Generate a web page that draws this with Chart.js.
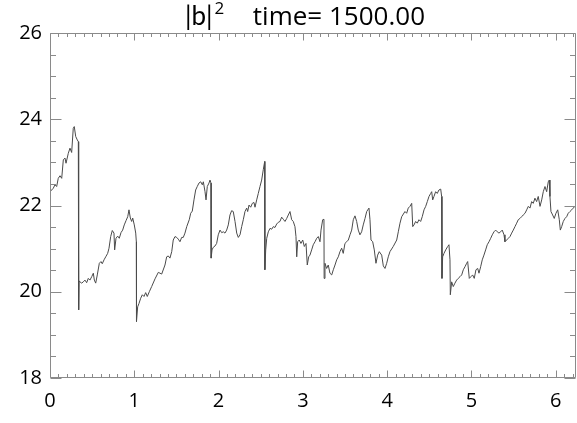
<!DOCTYPE html>
<html>
<head>
<meta charset="utf-8">
<script src="https://cdn.jsdelivr.net/npm/chart.js@4/dist/chart.umd.min.js"></script>
<style>
  html, body { margin: 0; padding: 0; background: #ffffff; }
  #c { display: block; }
</style>
</head>
<body>
<canvas id="c" width="577" height="423"></canvas>
<script>
// |b|^2 along the domain at time = 1500
const tValues = [
  0.000, 0.039, 0.059, 0.079, 0.098, 0.119, 0.139, 0.158, 0.178, 0.190,
  0.217, 0.237, 0.257, 0.276, 0.288, 0.305, 0.324, 0.336, 0.339, 0.341,
  0.345, 0.356, 0.376, 0.395, 0.415, 0.435, 0.454, 0.474, 0.495, 0.514,
  0.526, 0.542, 0.561, 0.585, 0.605, 0.620, 0.641, 0.661, 0.684, 0.700,
  0.720, 0.739, 0.759, 0.767, 0.783, 0.803, 0.822, 0.842, 0.862, 0.881,
  0.902, 0.922, 0.937, 0.953, 0.969, 0.981, 1.000, 1.017, 1.024, 1.026,
  1.040, 1.056, 1.076, 1.095, 1.115, 1.135, 1.154, 1.178, 1.206, 1.246,
  1.285, 1.325, 1.364, 1.384, 1.403, 1.423, 1.444, 1.462, 1.483, 1.503,
  1.522, 1.542, 1.562, 1.581, 1.601, 1.622, 1.652, 1.669, 1.688, 1.708,
  1.728, 1.747, 1.767, 1.788, 1.807, 1.819, 1.839, 1.851, 1.866, 1.886,
  1.898, 1.910, 1.912, 1.922, 1.937, 1.957, 1.977, 1.996, 2.017, 2.037,
  2.056, 2.076, 2.096, 2.115, 2.135, 2.155, 2.174, 2.195, 2.215, 2.234,
  2.254, 2.274, 2.293, 2.313, 2.333, 2.345, 2.361, 2.381, 2.400, 2.420,
  2.432, 2.452, 2.471, 2.491, 2.511, 2.530, 2.547, 2.549, 2.559, 2.571,
  2.590, 2.610, 2.630, 2.649, 2.669, 2.689, 2.708, 2.728, 2.748, 2.768,
  2.788, 2.808, 2.827, 2.847, 2.867, 2.886, 2.906, 2.918, 2.927, 2.938,
  2.957, 2.977, 2.998, 3.017, 3.037, 3.052, 3.069, 3.084, 3.104, 3.123,
  3.144, 3.164, 3.183, 3.203, 3.215, 3.235, 3.250, 3.252, 3.262, 3.282,
  3.301, 3.321, 3.342, 3.361, 3.381, 3.401, 3.420, 3.440, 3.460, 3.479,
  3.499, 3.520, 3.539, 3.559, 3.579, 3.598, 3.618, 3.638, 3.657, 3.677,
  3.697, 3.716, 3.737, 3.757, 3.784, 3.796, 3.808, 3.828, 3.847, 3.867,
  3.887, 3.906, 3.935, 3.954, 3.974, 3.994, 4.013, 4.033, 4.072, 4.113,
  4.132, 4.152, 4.172, 4.211, 4.231, 4.250, 4.270, 4.291, 4.303, 4.318,
  4.338, 4.357, 4.377, 4.397, 4.416, 4.437, 4.457, 4.476, 4.496, 4.516,
  4.528, 4.540, 4.555, 4.575, 4.594, 4.614, 4.635, 4.646, 4.650, 4.658,
  4.674, 4.694, 4.718, 4.733, 4.745, 4.749, 4.765, 4.784, 4.804, 4.824,
  4.843, 4.864, 4.884, 4.903, 4.923, 4.943, 4.955, 4.974, 4.994, 5.014,
  5.033, 5.053, 5.074, 5.089, 5.109, 5.128, 5.148, 5.168, 5.187, 5.208,
  5.228, 5.247, 5.267, 5.287, 5.306, 5.326, 5.346, 5.365, 5.386, 5.397,
  5.417, 5.437, 5.457, 5.477, 5.496, 5.516, 5.536, 5.555, 5.575, 5.595,
  5.614, 5.635, 5.655, 5.674, 5.694, 5.714, 5.733, 5.753, 5.773, 5.792,
  5.813, 5.833, 5.852, 5.872, 5.892, 5.911, 5.923, 5.931, 5.943, 5.963,
  5.982, 6.002, 6.023, 6.042, 6.054, 6.070, 6.089, 6.109, 6.129, 6.148,
  6.168, 6.189, 6.208, 6.240
];

const b2Values = [
  22.32, 22.40, 22.48, 22.44, 22.63, 22.69, 22.63, 23.06, 23.10, 22.98,
  23.21, 23.33, 23.23, 23.79, 23.83, 23.60, 23.52, 23.48, 22.79, 19.58,
  20.25, 20.23, 20.20, 20.23, 20.27, 20.21, 20.31, 20.27, 20.35, 20.43,
  20.27, 20.20, 20.39, 20.66, 20.70, 20.65, 20.74, 20.81, 20.89, 21.01,
  21.28, 21.42, 21.36, 20.97, 21.24, 21.29, 21.24, 21.37, 21.43, 21.55,
  21.65, 21.74, 21.90, 21.71, 21.63, 21.71, 21.55, 21.36, 21.16, 19.31,
  19.65, 19.73, 19.85, 19.93, 19.89, 19.98, 19.89, 20.00, 20.12, 20.30,
  20.45, 20.41, 20.62, 20.81, 20.83, 20.78, 20.93, 21.20, 21.28, 21.26,
  21.22, 21.16, 21.26, 21.26, 21.36, 21.51, 21.67, 21.82, 21.87, 22.13,
  22.36, 22.44, 22.52, 22.55, 22.48, 22.55, 22.32, 22.13, 22.44, 22.52,
  22.59, 22.52, 20.78, 20.97, 21.03, 21.06, 21.12, 21.32, 21.43, 21.37,
  21.39, 21.36, 21.43, 21.55, 21.78, 21.88, 21.86, 21.63, 21.36, 21.26,
  21.32, 21.51, 21.67, 21.86, 21.94, 21.86, 22.01, 21.96, 22.05, 22.07,
  21.96, 22.13, 22.28, 22.44, 22.59, 22.83, 23.02, 20.51, 20.97, 21.24,
  21.39, 21.47, 21.45, 21.51, 21.49, 21.57, 21.61, 21.63, 21.73, 21.68,
  21.63, 21.70, 21.78, 21.86, 21.67, 21.63, 21.51, 21.28, 20.81, 21.16,
  21.20, 21.12, 21.20, 21.05, 21.12, 20.62, 20.81, 20.85, 20.97, 21.09,
  21.16, 21.24, 21.28, 21.16, 21.43, 21.67, 21.68, 20.31, 20.66, 20.54,
  20.62, 20.43, 20.39, 20.51, 20.62, 20.74, 20.81, 20.93, 21.01, 20.89,
  21.12, 21.16, 21.20, 21.32, 21.43, 21.67, 21.76, 21.63, 21.43, 21.32,
  21.39, 21.55, 21.70, 21.86, 21.94, 21.67, 21.20, 21.16, 20.97, 20.66,
  20.85, 20.93, 20.85, 20.60, 20.54, 20.66, 20.81, 20.93, 21.05, 21.20,
  21.39, 21.59, 21.74, 21.86, 21.82, 21.94, 21.98, 22.05, 21.51, 21.55,
  21.63, 21.59, 21.67, 21.63, 21.74, 21.90, 21.98, 22.09, 22.21, 22.28,
  22.32, 22.13, 22.21, 22.32, 22.28, 22.36, 22.38, 22.21, 20.31, 20.81,
  20.89, 20.97, 21.05, 21.09, 20.74, 19.93, 20.23, 20.12, 20.20, 20.27,
  20.31, 20.35, 20.39, 20.51, 20.58, 20.66, 20.70, 20.31, 20.35, 20.39,
  20.31, 20.51, 20.54, 20.43, 20.58, 20.74, 20.85, 20.97, 21.09, 21.16,
  21.24, 21.32, 21.39, 21.43, 21.39, 21.36, 21.39, 21.43, 21.32, 21.16,
  21.20, 21.24, 21.28, 21.36, 21.43, 21.51, 21.59, 21.67, 21.70, 21.74,
  21.78, 21.82, 21.90, 21.98, 21.94, 22.09, 22.05, 22.17, 22.09, 22.21,
  21.98, 22.13, 22.32, 22.44, 22.32, 22.55, 22.59, 22.21, 21.86, 21.78,
  21.70, 21.82, 21.90, 21.67, 21.43, 21.51, 21.63, 21.70, 21.74, 21.82,
  21.86, 21.90, 21.94, 22.01
];

// Axis ranges and labelled ticks
const xRange = [0, 6.24];
const yRange = [18, 26];
const xTickStep = 1;
const yTickStep = 2;
const xMinorStep = 0.1;
const yMinorStep = 0.5;

const titleQuantity = '|b|';
const titleExponent = '2';
const titleTime = 'time= 1500.00';

const points = tValues.map((t, i) => ({ x: t, y: b2Values[i] }));

const FONT = "'Open Sans', 'DejaVu Sans', sans-serif";
const NARROW = "Lato, 'Liberation Sans', sans-serif";

// Box frame with inward-pointing ticks on all four sides
const frameTicks = {
  id: 'frameTicks',
  afterDraw(chart) {
    const { ctx, chartArea: a, scales } = chart;
    const xs = scales.x, ys = scales.y;
    const L = Math.round(a.left) + 0.5, R = Math.round(a.right) - 0.5;
    const T = Math.round(a.top) + 0.5, B = Math.round(a.bottom) - 0.5;
    ctx.save();
    ctx.strokeStyle = '#8a8a8a';
    ctx.lineWidth = 1;
    ctx.beginPath();
    ctx.rect(L, T, R - L, B - T);
    ctx.stroke();

    ctx.beginPath();
    const nx = Math.round((xRange[1] - xRange[0]) / xMinorStep);
    for (let i = 0; i <= nx; i++) {
      const v = xRange[0] + i * xMinorStep;
      const px = Math.round(xs.getPixelForValue(v)) + 0.5;
      const len = (i % 10 === 0) ? 7 : 3.5;
      ctx.moveTo(px, B); ctx.lineTo(px, B - len);
      ctx.moveTo(px, T); ctx.lineTo(px, T + len);
    }
    const ny = Math.round((yRange[1] - yRange[0]) / yMinorStep);
    for (let i = 0; i <= ny; i++) {
      const v = yRange[0] + i * yMinorStep;
      const py = Math.round(ys.getPixelForValue(v)) + 0.5;
      const len = (i % 4 === 0) ? 11 : 5.5;
      ctx.moveTo(L, py); ctx.lineTo(L + len, py);
      ctx.moveTo(R, py); ctx.lineTo(R - len, py);
    }
    ctx.stroke();
    ctx.restore();
  }
};

// Title with a raised exponent
const titleDraw = {
  id: 'titleDraw',
  afterDraw(chart) {
    const { ctx } = chart;
    ctx.save();
    ctx.fillStyle = '#000000';
    ctx.textBaseline = 'alphabetic';
    ctx.textAlign = 'left';
    ctx.font = '26px ' + NARROW;
    ctx.fillText(titleQuantity, 185, 25);
    const qw = ctx.measureText(titleQuantity).width;
    ctx.font = '17px ' + FONT;
    ctx.fillText(titleExponent, 185 + qw + 2, 14);
    ctx.font = '26px ' + FONT;
    ctx.textAlign = 'right';
    ctx.fillText(titleTime, 425, 25);
    ctx.restore();
  }
};

new Chart(document.getElementById('c'), {
  type: 'line',
  data: {
    datasets: [{
      data: points,
      borderColor: '#4a4a4a',
      borderWidth: 1,
      pointRadius: 0,
      tension: 0,
      fill: false
    }]
  },
  options: {
    responsive: false,
    animation: false,
    devicePixelRatio: 1,
    layout: { padding: { top: 33, right: 1, left: 0, bottom: 0 } },
    plugins: { legend: { display: false }, title: { display: false }, tooltip: { enabled: false } },
    scales: {
      x: {
        type: 'linear',
        min: xRange[0],
        max: xRange[1],
        grid: { display: false, drawTicks: false },
        border: { display: false },
        ticks: {
          stepSize: xTickStep,
          includeBounds: false,
          color: '#000000',
          font: { family: FONT, size: 20 },
          padding: 11,
          maxRotation: 0,
          autoSkip: false
        },
        afterFit(scale) { scale.height = 45; }
      },
      y: {
        type: 'linear',
        min: yRange[0],
        max: yRange[1],
        grid: { display: false, drawTicks: false },
        border: { display: false },
        ticks: {
          stepSize: yTickStep,
          color: '#000000',
          font: { family: FONT, size: 20 },
          padding: 8
        },
        afterFit(scale) { scale.width = 50; }
      }
    }
  },
  plugins: [frameTicks, titleDraw]
});
</script>
</body>
</html>
